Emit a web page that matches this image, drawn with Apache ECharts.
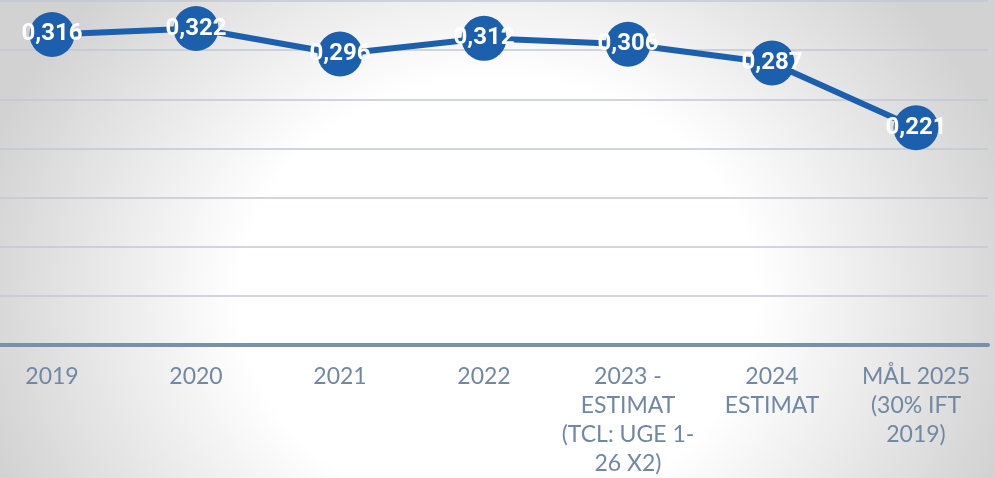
<!DOCTYPE html>
<html lang="da">
<head>
    <meta charset="UTF-8">
    <title>Udvikling</title>
    <style>
        html, body { margin: 0; padding: 0; overflow: hidden; }
        body {
            width: 995px; height: 478px;
            background: radial-gradient(ellipse 54% 95% at 50% 62%, #ffffff 0%, #ffffff 48%, #d2d2d2 100%);
        }
        /* plotområdet går lidt ud over venstre kant, som i originalen */
        #chart { width: 1015px; height: 478px; margin-left: -20px; }
    </style>
</head>
<body>
<div id="chart"></div>
<script src="https://cdn.jsdelivr.net/npm/echarts@6/dist/echarts.min.js"></script>
<script type="text/javascript">
    // kategorier og værdier
    const categories = ['2019', '2020', '2021', '2022', '2023 -\nESTIMAT\n(TCL: UGE 1-\n26 X2)', '2024\nESTIMAT', 'MÅL 2025\n(30% IFT\n2019)'];
    const values = [0.316, 0.322, 0.296, 0.312, 0.306, 0.287, 0.221];
    const yMin = 0, yMax = 0.35, yStep = 0.05;

    const chart = echarts.init(document.getElementById('chart'));
    chart.setOption({
        backgroundColor: 'transparent',
        animation: false,
        grid: {left: 0, right: 7, top: 1, bottom: 133},
        xAxis: {
            type: 'category',
            data: categories,
            boundaryGap: true,
            axisTick: {show: false},
            axisLine: {lineStyle: {color: '#7a90a9', width: 4}},
            axisLabel: {
                color: '#7088a4',
                fontFamily: 'Lato, sans-serif',
                fontSize: 23,
                lineHeight: 29,
                margin: 17,
                interval: 0
            }
        },
        yAxis: {
            type: 'value',
            min: yMin,
            max: yMax,
            interval: yStep,
            axisLabel: {show: false},
            axisLine: {show: false},
            axisTick: {show: false},
            splitLine: {lineStyle: {color: '#c3c9d0', width: 1.5}}
        },
        series: [{
            type: 'line',
            data: values,
            symbol: 'circle',
            symbolSize: 45,
            lineStyle: {color: '#1c60ad', width: 6},
            itemStyle: {color: '#1c60ad'},
            label: {
                show: true,
                position: 'inside',
                color: '#ffffff',
                fontFamily: 'Roboto, sans-serif',
                fontWeight: 'bold',
                fontSize: 24,
                formatter: p => p.value.toFixed(3).replace('.', ',')
            }
        }]
    });
</script>
</body>
</html>
